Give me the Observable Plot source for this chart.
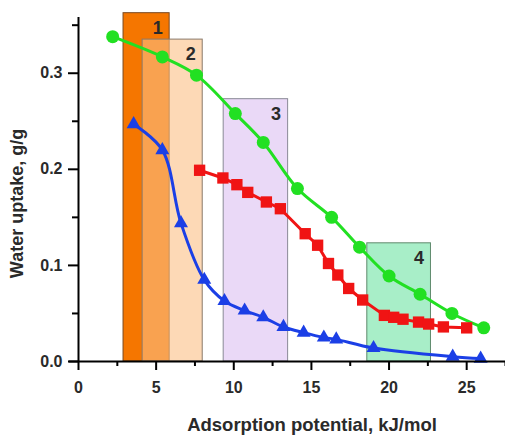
<!DOCTYPE html>
<html><head><meta charset="utf-8">
<script src="https://cdn.jsdelivr.net/npm/d3@7"></script>
<script src="https://cdn.jsdelivr.net/npm/@observablehq/plot@0.6"></script>
<style>body{margin:0;background:#fff}</style>
</head><body><div id="chart"></div>
<script>
const greenX = [2.2, 5.4, 7.6, 10.1, 11.9, 14.1, 16.3, 18.1, 20.0, 22.0, 24.05, 26.1];
const greenY = [0.338, 0.317, 0.298, 0.258, 0.228, 0.180, 0.150, 0.119, 0.089, 0.070, 0.050, 0.035];
const redX = [7.8, 9.3, 10.2, 10.9, 12.1, 13.0, 14.6, 15.4, 16.1, 16.7, 17.4, 18.3, 19.7, 20.3, 20.9, 21.9, 22.55, 23.5, 25.0];
const redY = [0.199, 0.191, 0.184, 0.176, 0.166, 0.159, 0.133, 0.121, 0.102, 0.090, 0.076, 0.064, 0.048, 0.046, 0.044, 0.041, 0.039, 0.036, 0.035];
const blueX = [3.55, 5.4, 6.6, 8.1, 9.4, 10.7, 11.9, 13.2, 14.5, 15.8, 16.6, 19.0, 24.1, 25.9];
const blueY = [0.247, 0.220, 0.144, 0.085, 0.063, 0.053, 0.046, 0.036, 0.030, 0.025, 0.023, 0.014, 0.005, 0.003];

const rectLabels = ["1", "2", "3", "4"];
const rectX1 = [2.9, 4.13, 9.35, 18.6];
const rectX2 = [5.87, 8.0, 13.5, 22.7];
const rectTop = [0.3625, 0.335, 0.273, 0.123];
const rectFill = ["#f57600", "#fbbf85", "#ead9f7", "#a8eec8"];
const rectOpacity = [1, 0.6, 1, 1];
const rectStroke = ["#7a4a22", "#8a7a6a", "#8a8a96", "#5f8a6c"];

const xTicks = [0, 5, 10, 15, 20, 25];
const xMinor = [2.5, 7.5, 12.5, 17.5, 22.5, 27.5];
const yTicks = [0, 0.1, 0.2, 0.3];
const yMinor = [0.05, 0.15, 0.25, 0.35];
const xLabel = "Adsorption potential, kJ/mol";
const yLabel = "Water uptake, g/g";

const green = greenX.map((x, i) => ({x, y: greenY[i]}));
const red = redX.map((x, i) => ({x, y: redY[i]}));
const blue = blueX.map((x, i) => ({x, y: blueY[i]}));
const rects = rectLabels.map((label, i) => ({label, x1: rectX1[i], x2: rectX2[i], top: rectTop[i], fill: rectFill[i], op: rectOpacity[i], stroke: rectStroke[i]}));

const font = "Liberation Sans, Arial, sans-serif";
const ink = "#2a2a2a";

const chart = Plot.plot({
  width: 505,
  height: 437,
  marginLeft: 78,
  marginRight: 0,
  marginTop: 17,
  marginBottom: 76,
  style: {fontFamily: font, background: "#fff", overflow: "visible"},
  x: {domain: [0, 27.5]},
  y: {domain: [0, 0.358]},
  color: {type: "identity"},
  marks: [
    Plot.rect(rects, {x1: "x1", x2: "x2", y1: 0, y2: "top", fill: "fill", fillOpacity: "op", stroke: "stroke", strokeWidth: 1}),
    Plot.text(rects, {x: "x2", y: "top", text: "label", dx: -12, dy: 15, fontSize: 18, fontWeight: "bold", fill: ink}),
    Plot.line(blue, {x: "x", y: "y", stroke: "#1b3fe6", strokeWidth: 3, curve: "catmull-rom"}),
    Plot.line(red, {x: "x", y: "y", stroke: "#f01414", strokeWidth: 3}),
    Plot.line(green, {x: "x", y: "y", stroke: "#22e022", strokeWidth: 3, curve: "catmull-rom"}),
    Plot.dot(blue, {x: "x", y: "y", symbol: "triangle", r: 5.2, fill: "#1b3fe6", stroke: null}),
    Plot.dot(red, {x: "x", y: "y", symbol: "square", r: 6.4, fill: "#f01414", stroke: null}),
    Plot.dot(green, {x: "x", y: "y", symbol: "circle", r: 6.5, fill: "#22e022", stroke: null}),
    Plot.ruleY([0], {x1: -0.6, x2: 27.5, stroke: "#000", strokeWidth: 2}),
    Plot.ruleX([0], {y1: 0, y2: 0.358, stroke: "#000", strokeWidth: 2}),
    Plot.axisX({ticks: xTicks, tickSize: 9, tickPadding: 11, tickFormat: d => String(d), fontSize: 16, fontWeight: "bold", fill: ink, stroke: "#000", strokeWidth: 2, label: null}),
    Plot.axisX({ticks: xMinor, tickSize: 5, tickFormat: () => "", stroke: "#000", strokeWidth: 2, label: null}),
    Plot.axisY({ticks: yTicks, tickSize: 10, tickPadding: 6, tickFormat: d => d.toFixed(1), fontSize: 16, fontWeight: "bold", fill: ink, stroke: "#000", strokeWidth: 2, label: null}),
    Plot.axisY({ticks: yMinor, tickSize: 6, tickFormat: () => "", stroke: "#000", strokeWidth: 2, label: null}),
    Plot.text([xLabel], {text: d => d, frameAnchor: "bottom", textAnchor: "middle", lineAnchor: "middle", dx: 20, dy: 64, fontSize: 18.5, fontWeight: "bold", fill: ink}),
    Plot.text([yLabel], {text: d => d, frameAnchor: "left", textAnchor: "middle", lineAnchor: "middle", rotate: -90, dx: -61, dy: 14, fontSize: 18, fontWeight: "bold", fill: ink})
  ]
});
document.getElementById("chart").appendChild(chart);
</script>
</body></html>
